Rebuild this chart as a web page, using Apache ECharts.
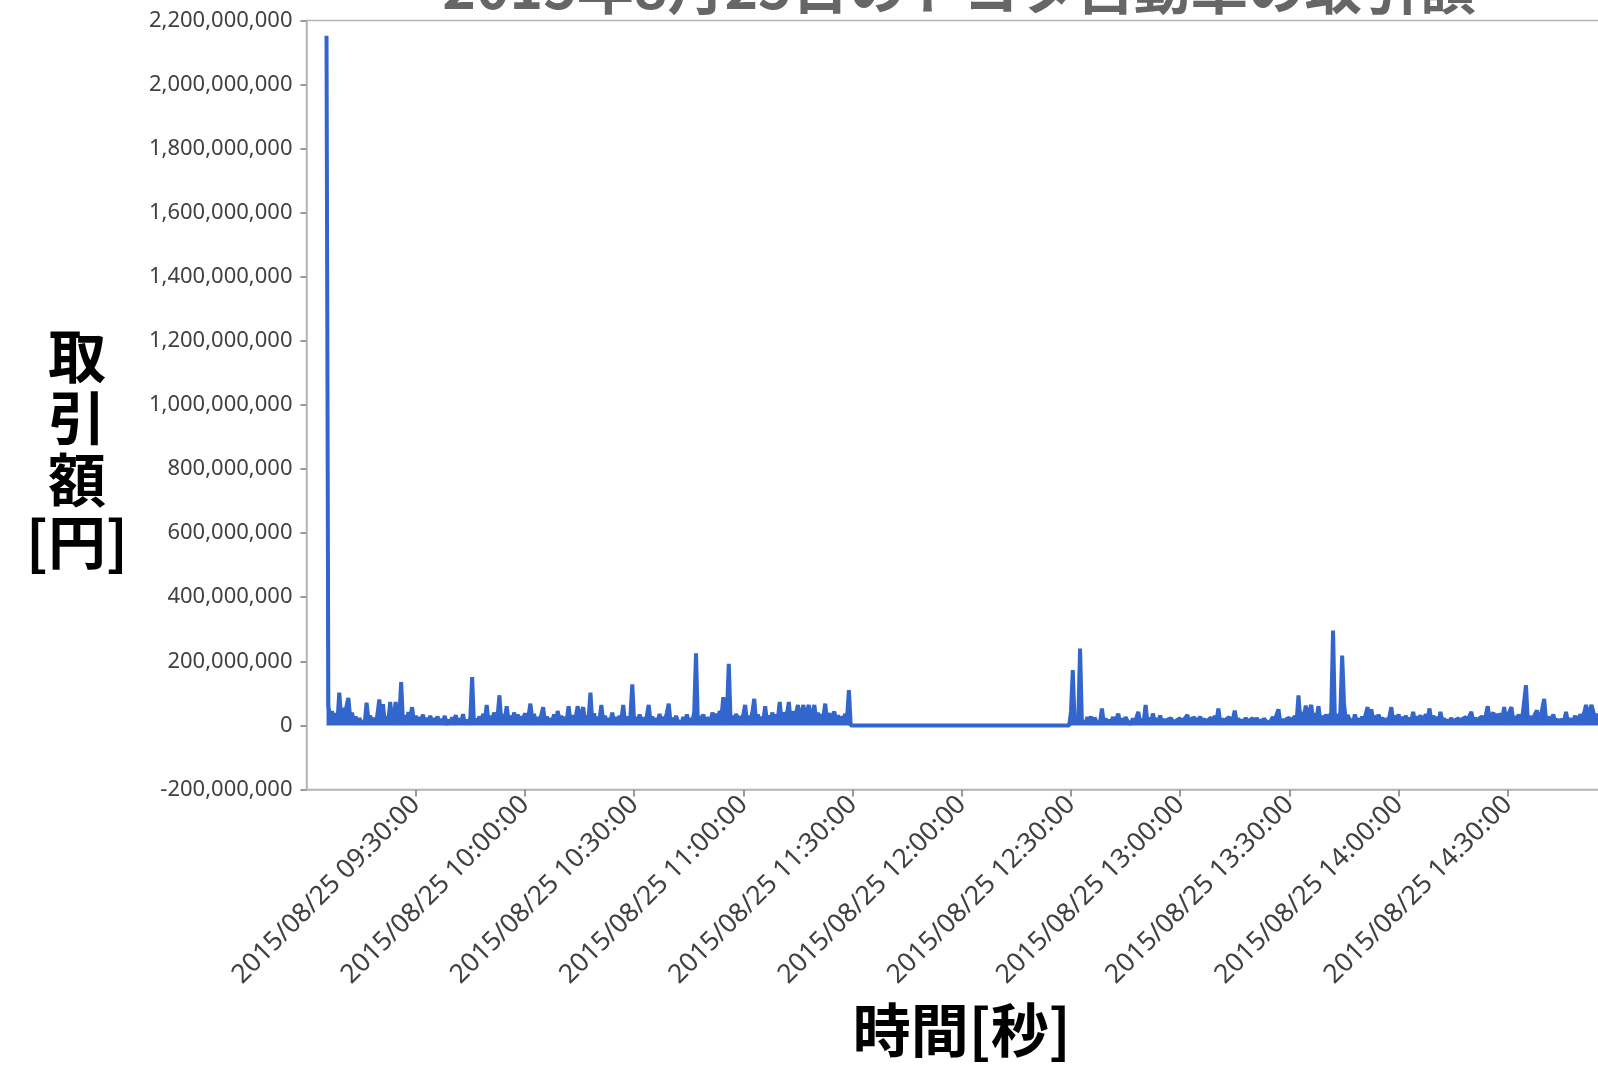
<!DOCTYPE html>
<html>
<head>
<meta charset="utf-8">
<script src="https://cdn.jsdelivr.net/npm/echarts@6/dist/echarts.min.js"></script>
<style>
html,body{margin:0;padding:0;background:#fff;overflow:hidden;}
#chart{width:1598px;height:1066px;}
</style>
</head>
<body>
<div id="chart"></div>
<script>
// ---- data (values in millions of yen, sampled every 30 s) ----
const titleText = '2015年8月25日のトヨタ自動車の取引額';
const xName = '時間[秒]';
const yName = '取\n引\n額\n[円]';
const datePrefix = '2015/08/25';
const stepSeconds = 30;
const amStart = '09:05:30';
const pmStart = '12:29:30';
const amValues = [
2152,62,20,45,8,38,12,102,30,55,20,60,86,25,40,10,28,5,22,12,
18,6,71,20,30,8,24,4,35,81,22,66,10,28,15,73,12,30,73,18,
25,135,10,32,6,42,20,57,12,30,5,26,14,34,3,24,10,30,6,22,
12,28,4,20,10,30,2,18,8,25,14,32,5,22,10,35,3,18,8,24,
151,6,20,12,28,4,36,15,64,10,30,6,40,18,28,94,12,35,20,60,
14,30,8,40,22,34,10,28,16,38,12,30,68,20,36,8,26,14,32,57,
10,28,4,22,12,34,6,45,18,30,10,26,16,60,12,32,8,28,60,20,
36,57,14,30,22,102,10,38,6,26,18,64,12,30,4,22,14,40,8,26,
12,30,18,64,10,28,4,32,128,12,26,8,34,16,24,6,30,64,14,28,
5,22,12,36,8,26,16,40,68,10,24,4,30,14,20,6,26,12,34,8,
22,14,40,225,10,28,20,34,6,24,30,12,40,22,36,10,45,28,88,16,
40,192,14,30,8,36,20,28,12,34,64,10,30,18,42,83,12,34,8,26,
16,60,10,30,20,40,6,34,22,73,14,40,28,36,73,12,44,20,38,64,
18,40,64,22,44,64,14,36,64,20,40,10,34,26,68,12,38,22,30,43,
14,32,8,28,18,36,24,110,0,0
];
const pmValues = [
0,42,173,12,22,8,240,14,20,6,26,10,28,4,24,12,18,8,53,10,
22,4,18,8,26,12,20,37,6,22,10,26,14,18,4,22,10,24,42,8,
20,12,64,10,24,6,37,14,22,8,31,10,20,4,18,12,22,27,6,16,
10,22,4,18,12,33,8,20,14,24,6,18,27,10,22,4,16,12,24,8,
30,14,53,10,22,6,18,12,26,8,20,46,12,22,4,18,10,24,6,16,
12,22,4,24,10,18,6,22,14,20,8,16,26,12,34,50,10,20,6,18,
12,24,8,20,29,14,94,20,40,30,62,24,44,64,18,38,26,60,14,30,
10,34,20,28,40,296,16,34,24,40,218,71,14,32,20,26,8,34,12,22,
6,28,14,36,57,12,50,20,30,8,34,16,24,6,22,12,28,57,14,30,
20,34,10,26,18,30,8,24,14,42,10,28,18,32,6,24,34,20,53,12,
30,18,26,8,42,14,22,6,18,10,24,4,16,12,22,6,20,14,26,10,
30,42,12,24,8,20,14,28,10,34,60,16,30,40,22,36,14,38,20,57,
16,30,24,57,12,28,20,34,8,26,30,125,14,30,10,24,18,47,12,26,
30,83,16,28,8,22,34,12,20,6,18,24,14,42,10,22,8,16,30,12,
24,34,18,40,64,30,44,64,64,20,36,14,28,10,32,18,40,22,30,12,
26,8
];
const yTickMin = -200000000, yTickMax = 2200000000, yTickStep = 200000000;
const xMinMinutes = 540, xMaxMinutes = 900, xStepMinutes = 30;

function toMinutes(hms){const p=hms.split(':').map(Number);return p[0]*60+p[1]+p[2]/60;}
function buildSeries(start, vals){
  const s = toMinutes(start);
  return vals.map((v,i)=>[s + i*stepSeconds/60, v*1e6]);
}
const seriesData = buildSeries(amStart, amValues).concat(buildSeries(pmStart, pmValues));

function fmtTime(m){
  const h = Math.floor(m/60), mm = Math.round(m - h*60);
  return datePrefix + ' ' + String(h).padStart(2,'0') + ':' + String(mm).padStart(2,'0') + ':00';
}

const chart = echarts.init(document.getElementById('chart'));
const labelFont = 'Noto Sans';
const cjkFont = 'Noto Sans CJK JP';
chart.setOption({
  animation:false,
  backgroundColor:'#ffffff',
  title:{
    text:titleText, left:959, top:-41, textAlign:'center', padding:0,
    textStyle:{fontSize:57, fontWeight:'bold', color:'#666666', fontFamily:cjkFont}
  },
  graphic:[{
    type:'text', x:77, y:449,
    style:{text:yName, fontSize:58, fontWeight:'bold', fill:'#000', fontFamily:cjkFont,
      align:'center', verticalAlign:'middle', lineHeight:62}
  }],
  grid:{
    left:306.5, top:20.4, right:-19, bottom:276.5,
    containLabel:false, outerBoundsMode:'none',
    show:true, borderColor:'#b4b4b4', borderWidth:1.5, backgroundColor:'transparent'
  },
  xAxis:{
    type:'value', min:xMinMinutes, max:xMaxMinutes, interval:xStepMinutes,
    name:xName, nameLocation:'middle', nameGap:211,
    nameTextStyle:{fontSize:58, fontWeight:'bold', color:'#000', fontFamily:cjkFont},
    axisLine:{show:true, onZero:false, lineStyle:{color:'#b4b4b4', width:1.5}},
    axisTick:{show:true, length:7, lineStyle:{color:'#999', width:2}},
    splitLine:{show:false},
    axisLabel:{
      rotate:45, margin:11, fontSize:26.5, color:'#404040', fontFamily:labelFont,
      showMinLabel:false, showMaxLabel:false,
      formatter:(v)=>fmtTime(v)
    }
  },
  yAxis:{
    type:'value', min:yTickMin, max:yTickMax, interval:yTickStep,
    axisLine:{show:true, lineStyle:{color:'#b4b4b4', width:1.5}},
    axisTick:{show:true, length:6, lineStyle:{color:'#999', width:2}},
    splitLine:{show:false},
    axisLabel:{
      margin:14, fontSize:22, color:'#404040', fontFamily:labelFont,
      formatter:(v)=>Number(v).toLocaleString('en-US')
    }
  },
  series:[{
    type:'line', data:seriesData, showSymbol:false, symbol:'none',
    lineStyle:{color:'#3366cc', width:4}, itemStyle:{color:'#3366cc'},
    areaStyle:{color:'#3366cc', opacity:1},
    sampling:null
  }]
});
</script>
</body>
</html>
